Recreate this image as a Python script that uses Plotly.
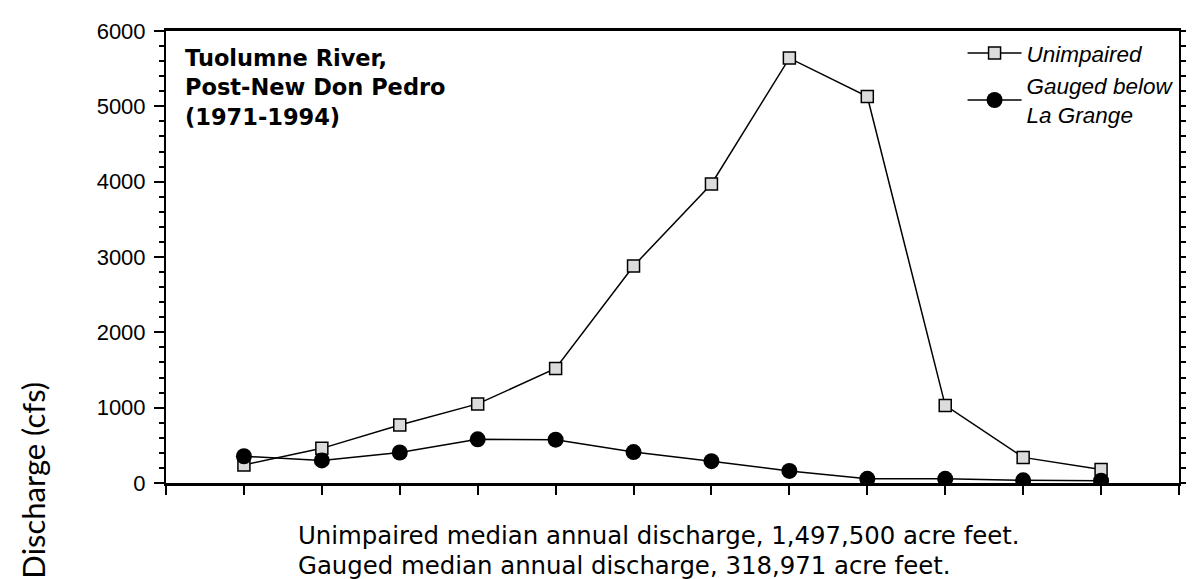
import plotly.graph_objects as go

# ---- data ----
month_index = [1, 2, 3, 4, 5, 6, 7, 8, 9, 10, 11, 12]
unimpaired = [240, 460, 770, 1050, 1520, 2880, 3970, 5640, 5130, 1030, 340, 180]
gauged = [355, 300, 405, 580, 575, 410, 290, 160, 55, 55, 35, 30]
series_names = ["Unimpaired", "Gauged below<br>La Grange"]
y_ticks = [0, 1000, 2000, 3000, 4000, 5000, 6000]
title_lines = ["Tuolumne River,", "Post-New Don Pedro", "(1971-1994)"]
note_lines = ["Unimpaired median annual discharge, 1,497,500 acre feet.",
              "Gauged median annual discharge, 318,971 acre feet."]
y_title = "Discharge (cfs)"

W, H = 1194, 579
L, R, T, B = 158, 11, 16, 104
pw, ph = W - L - R, H - T - B


def px_x(x):
    return (x - L) / pw


def px_y(y):
    return 1 - (y - T) / ph


fig = go.Figure()
fig.add_trace(go.Scatter(
    x=month_index, y=unimpaired, name=series_names[0], mode="lines+markers",
    line=dict(color="black", width=1.5),
    marker=dict(symbol="square", size=12, color="#dcdcdc",
                line=dict(color="black", width=1.5)),
))
fig.add_trace(go.Scatter(
    x=month_index, y=gauged, name=series_names[1], mode="lines+markers",
    line=dict(color="black", width=1.5),
    marker=dict(symbol="circle", size=16, color="black",
                line=dict(color="black", width=0)),
))

fig.update_layout(
    width=W, height=H,
    margin=dict(l=L, r=R, t=T, b=B, pad=0),
    paper_bgcolor="white", plot_bgcolor="white",
    showlegend=True,
    legend=dict(x=px_x(964), y=px_y(17), xanchor="left", yanchor="top",
                font=dict(family="Liberation Sans", size=22.5, color="black", style="italic"),
                itemwidth=54, tracegroupgap=0, bgcolor="rgba(0,0,0,0)",
                borderwidth=0),
    font=dict(family="Liberation Sans", color="black"),
)

fig.update_xaxes(
    range=[0, 13], tickmode="linear", tick0=0, dtick=1,
    showticklabels=False, ticks="outside", ticklen=9, tickwidth=2, tickcolor="black",
    showline=True, linecolor="black", linewidth=3, mirror=True,
    showgrid=False, zeroline=False,
)
fig.update_yaxes(
    range=[0, 6000], tickmode="array", tickvals=y_ticks,
    ticks="outside", ticklen=10, tickwidth=2, tickcolor="black",
    tickfont=dict(family="Liberation Sans", size=22, color="black"),
    ticklabelstandoff=4,
    minor=dict(dtick=200, ticks="outside", ticklen=5, tickwidth=1.5, tickcolor="black"),
    showline=True, linecolor="black", linewidth=2, mirror="ticks",
    showgrid=False, zeroline=False,
)

fig.add_annotation(
    text="<br>".join(title_lines), xref="paper", yref="paper",
    x=px_x(176), y=px_y(29.5), xanchor="left", yanchor="top", align="left",
    showarrow=False, borderpad=0,
    font=dict(family="DejaVu Sans", size=22.5, color="black", weight="bold"),
)

note_y = [528, 559]
for line, yy in zip(note_lines, note_y):
    fig.add_annotation(
        text=line, xref="paper", yref="paper",
        x=px_x(291), y=px_y(yy), xanchor="left", yanchor="middle",
        showarrow=False, borderpad=0,
        font=dict(family="DejaVu Sans", size=24.4, color="black"),
    )

fig.add_annotation(
    text=y_title, xref="paper", yref="paper",
    x=px_x(23), y=px_y(472), xanchor="center", yanchor="middle",
    textangle=-90, showarrow=False, borderpad=0,
    font=dict(family="Lato", size=31, color="black"),
)

fig.write_html("out.html")
